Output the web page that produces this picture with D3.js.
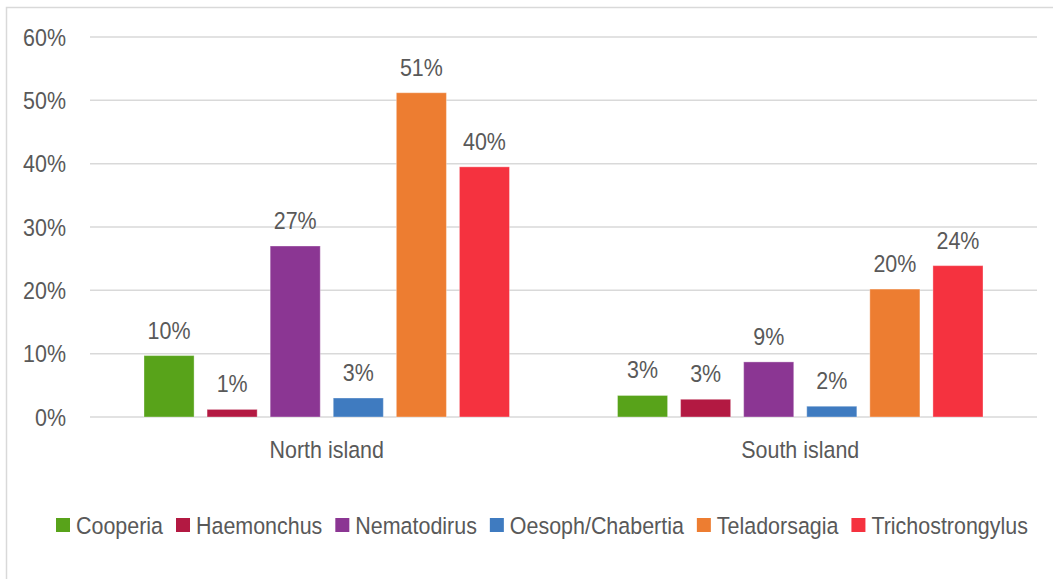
<!DOCTYPE html>
<html>
<head>
<meta charset="utf-8">
<script src="https://cdn.jsdelivr.net/npm/d3@7"></script>
<style>
  body { margin: 0; background: #fff; }
  svg text { font-family: "Liberation Sans", Arial, sans-serif; fill: #595959; }
</style>
</head>
<body>
<div id="chart"></div>
<script>
// Parasite genera by island
const islands = ["North island", "South island"];
const genera = ["Cooperia", "Haemonchus", "Nematodirus", "Oesoph/Chabertia", "Teladorsagia", "Trichostrongylus"];
const northValues = [0.097, 0.012, 0.270, 0.030, 0.512, 0.395];
const southValues = [0.034, 0.028, 0.087, 0.017, 0.202, 0.239];
const yTicks = [0, 0.1, 0.2, 0.3, 0.4, 0.5, 0.6];
const colors = ["#58A31A", "#B31942", "#8B3693", "#3F7BC0", "#ED7D31", "#F5323F"];

(function () {
  const W = 1053, H = 579;
  const margin = { top: 37, right: 16, bottom: 162, left: 90 };
  const width = W - margin.left - margin.right;
  const height = H - margin.top - margin.bottom;
  const fs = 24.5;
  const squeeze = 0.875; // the original font is a narrow face

  // condense a text selection horizontally
  function narrow(sel) {
    sel.each(function () {
      const len = this.getComputedTextLength();
      d3.select(this).attr("textLength", len * squeeze).attr("lengthAdjust", "spacingAndGlyphs");
    });
  }

  const rows = islands.map((name, i) => ({
    name,
    values: (i === 0 ? northValues : southValues).map((v, j) => ({ key: genera[j], value: v, color: colors[j] }))
  }));

  const svgRoot = d3.select("#chart").append("svg")
    .attr("width", W).attr("height", H).style("display", "block");

  // outer chart border
  svgRoot.append("rect")
    .attr("x", 6.5).attr("y", 7.5)
    .attr("width", W + 20).attr("height", H + 20)
    .attr("fill", "none").attr("stroke", "#D9D9D9").attr("stroke-width", 1.5);

  const svg = svgRoot.append("g").attr("transform", `translate(${margin.left},${margin.top})`);

  const yScale = d3.scaleLinear().domain([0, 0.6]).range([height, 0]);
  const x0 = d3.scaleBand().domain(islands).range([0, width]).padding(0);
  const inner = 54;
  const x1 = d3.scaleBand().domain(genera)
    .range([inner, x0.bandwidth() - inner]).paddingInner(0.206).paddingOuter(0);

  // gridlines
  svg.append("g").selectAll("line").data(yTicks).join("line")
    .attr("x1", 0).attr("x2", width)
    .attr("y1", (d) => yScale(d)).attr("y2", (d) => yScale(d))
    .attr("stroke", "#D9D9D9").attr("stroke-width", 1.5);

  // y tick labels
  svg.append("g").selectAll("text").data(yTicks).join("text")
    .attr("x", -24).attr("y", (d) => yScale(d)).attr("dy", "0.36em")
    .attr("text-anchor", "end").style("font-size", fs + "px")
    .text(d3.format(".0%"))
    .call(narrow);

  // bars
  const groups = svg.selectAll("g.island").data(rows).join("g")
    .attr("class", "island")
    .attr("transform", (d) => `translate(${x0(d.name)},0)`);

  groups.selectAll("rect").data((d) => d.values).join("rect")
    .attr("x", (d) => x1(d.key)).attr("width", x1.bandwidth())
    .attr("y", (d) => yScale(d.value)).attr("height", (d) => height - yScale(d.value))
    .attr("fill", (d) => d.color)
    .attr("stroke", "#fff").attr("stroke-opacity", 0.35).attr("stroke-width", 1);

  groups.selectAll("text.val").data((d) => d.values).join("text")
    .attr("class", "val")
    .attr("x", (d) => x1(d.key) + x1.bandwidth() / 2)
    .attr("y", (d) => yScale(d.value) - 17)
    .attr("text-anchor", "middle").style("font-size", fs + "px")
    .text((d) => d3.format(".0%")(d.value))
    .call(narrow);

  // category labels
  svg.append("g").selectAll("text").data(islands).join("text")
    .attr("x", (d) => x0(d) + x0.bandwidth() / 2).attr("y", height + 41)
    .attr("text-anchor", "middle").style("font-size", fs + "px")
    .text((d) => d)
    .call(narrow);

  // legend
  const legend = svgRoot.append("g").attr("transform", "translate(56,525)");
  let lx = 0;
  genera.forEach((g, i) => {
    const item = legend.append("g").attr("transform", `translate(${lx},0)`);
    item.append("rect").attr("x", 0).attr("y", -7).attr("width", 14).attr("height", 14).attr("fill", colors[i]);
    const t = item.append("text").attr("x", 20).attr("y", 0).attr("dy", "0.36em")
      .style("font-size", fs + "px").text(g).call(narrow);
    lx += 20 + (+t.attr("textLength")) + 13;
  });
})();
</script>
</body>
</html>
